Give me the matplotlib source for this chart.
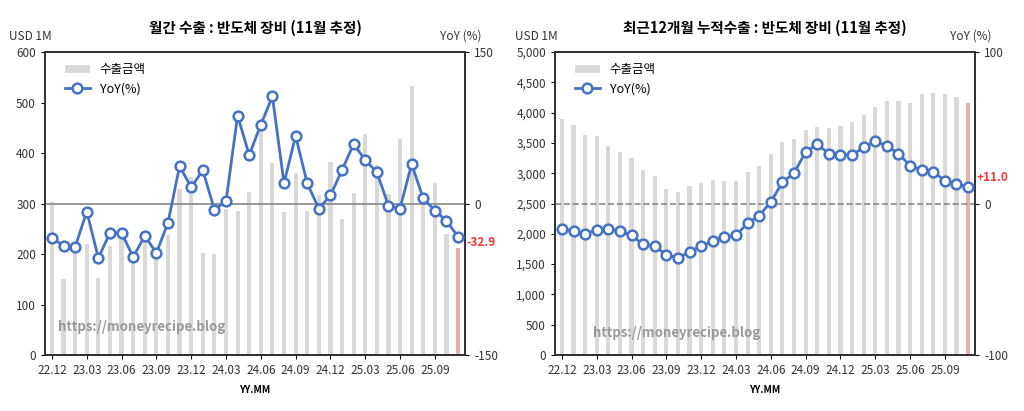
import matplotlib
matplotlib.use("Agg")
import matplotlib.pyplot as plt
import numpy as np

plt.rcParams['font.family'] = ['Noto Sans CJK KR', 'DejaVu Sans']

tick_labels = ["22.12","23.03","23.06","23.09","23.12","24.03","24.06","24.09","24.12","25.03","25.06","25.09"]

monthly_exp = [303,151,210,220,152,216,230,200,230,210,237,328,353,202,200,290,285,322,446,380,284,361,285,317,
               382,270,320,437,377,318,428,532,300,340,240,211]
monthly_yoy = [-34,-42,-43,-8,-54,-29,-29,-53,-32,-49,-19,37,16,33,-6,2,87,48,78,106,20,67,20,-5,
               8,33,59,43,31,-2,-5,39,5,-7,-17,-32.9]
cum_exp = [3900,3795,3630,3607,3442,3348,3249,3056,2946,2737,2687,2781,2836,2886,2864,2875,3012,3117,3310,3508,
           3563,3706,3756,3739,3772,3844,3965,4097,4185,4185,4163,4312,4328,4312,4257,4158]
cum_yoy = [-17,-18,-20,-17.4,-17,-18,-21,-27,-28,-34,-36,-32,-28,-25,-22,-21,-13,-8,1,14,20,34,39,33,32,32,
           37,41,38,33,25,22,21,15,13,11.0]

fig = plt.figure(figsize=(10.24, 4.11), dpi=100)
W, H = 1024, 411
def mk(x0, x1):
    return fig.add_axes([x0/W, 1-355/H, (x1-x0)/W, (355-52)/H])

def draw(ax, bars, yoy, ylim, yticks, ylim2, yt2, title, lbl, zero_ls, fmt, usd_x):
    x = np.arange(len(bars))
    cols = ['#d9d9d9']*(len(bars)-1) + ['#e6b0b0']
    ax.bar(x, bars, width=0.36, color=cols, label='수출금액', zorder=1)
    ax.set_ylim(*ylim); ax.set_yticks(yticks)
    ax.set_yticklabels([fmt(v) for v in yticks], fontsize=8.5, color='#333333')
    ax.set_xlim(-0.6, len(bars)-0.4)
    ax.set_xticks(x[::3]); ax.set_xticklabels(tick_labels, fontsize=8.5, color='#333333')
    ax.tick_params(length=3)
    ax2 = ax.twinx()
    ax2.axhline(0, color='#888888', lw=1.2, ls=zero_ls, zorder=1)
    ax2.plot(x, yoy, color='#4472C4', lw=2, marker='o', ms=7, mfc='white', mec='#4472C4', mew=1.8, label='YoY(%)', zorder=3)
    ax2.set_ylim(*ylim2); ax2.set_yticks(yt2)
    ax2.set_yticklabels([str(v) for v in yt2], fontsize=8.5, color='#333333')
    ax2.tick_params(length=3)
    ax2.text(len(bars)-0.3, yoy[-1]+ (ylim2[1]-ylim2[0])*0.01*(-2 if yoy[-1]<0 else 3), lbl,
             color='#ff3333', fontsize=8.5, fontweight='bold', ha='left', va='center')
    for a in (ax, ax2):
        for s in a.spines.values():
            s.set_linewidth(1.3); s.set_color('#333333')
    ax.set_title(title, fontsize=10.5, fontweight='bold', pad=14)
    ax.text(usd_x, 1.04, 'USD 1M', transform=ax.transAxes, ha='left', fontsize=8.5, color='#333333')
    ax2.text(1.04, 1.04, 'YoY (%)', transform=ax.transAxes, ha='right', fontsize=8.5, color='#333333')
    ax.set_xlabel('YY.MM', fontsize=7, fontweight='bold', labelpad=6)
    h1, l1 = ax.get_legend_handles_labels(); h2, l2 = ax2.get_legend_handles_labels()
    ax2.legend(h1+h2, l1+l2, loc='upper left', frameon=False, fontsize=9, handlelength=2, bbox_to_anchor=(0.02, 1.0))
    return ax2

axL = mk(45, 465)
draw(axL, monthly_exp, monthly_yoy, (0, 600), list(range(0, 601, 100)), (-150, 150), [-150, 0, 150],
     '월간 수출 : 반도체 장비 (11월 추정)', '-32.9', '-', lambda v: f"{v}", -0.085)
axL.text(0.03, 0.08, 'https://moneyrecipe.blog', transform=axL.transAxes, fontsize=9.5, fontweight='bold', color='#999999', zorder=5)
axR = mk(555, 975)
draw(axR, cum_exp, cum_yoy, (0, 5000), list(range(0, 5001, 500)), (-100, 100), [-100, 0, 100],
     '최근12개월 누적수출 : 반도체 장비 (11월 추정)', '+11.0', '--', lambda v: f"{v:,}", -0.095)
axR.text(0.09, 0.06, 'https://moneyrecipe.blog', transform=axR.transAxes, fontsize=9.5, fontweight='bold', color='#999999', zorder=5)
fig.savefig('out.png', dpi=100)
